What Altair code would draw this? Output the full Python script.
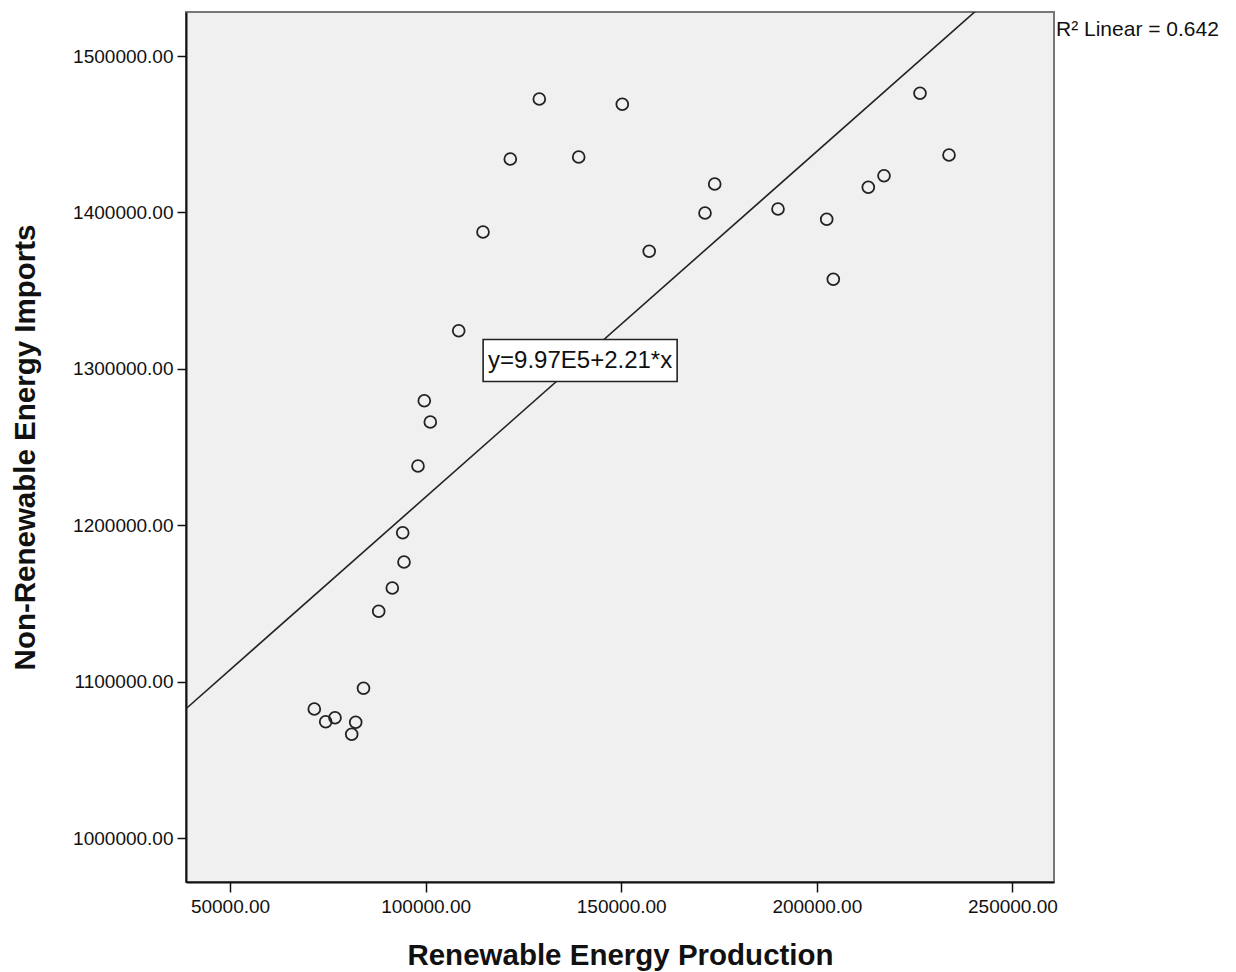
import altair as alt
import pandas as pd

# Data
renewable = [71547, 74461, 76838, 81107, 82129, 84123, 88009, 91485, 94476, 94144,
             98055, 99665, 101199, 108459, 114670, 121649, 129062, 139133, 150279, 157155,
             171419, 173899, 190079, 202528, 204215, 213162, 217175, 226378, 233791]
nonrenewable = [1082481, 1074361, 1076918, 1066304, 1073977, 1095716, 1144949, 1159847, 1176471, 1195205,
                1237852, 1279604, 1265985, 1324361, 1387468, 1434143, 1472506, 1435422, 1469118, 1375192,
                1399616, 1418159, 1402174, 1395588, 1357225, 1416049, 1423465, 1476151, 1436701]

intercept = 997000
slope = 2.21
r_squared = 0.642
equation_label = "y=9.97E5+2.21*x"
equation_x = 139500

x_domain = [38750, 260630]
y_domain = [971867, 1528133]
x_ticks = [50000, 100000, 150000, 200000, 250000]
y_ticks = [1000000, 1100000, 1200000, 1300000, 1400000, 1500000]

FONT = "Liberation Sans"

df = pd.DataFrame({"x": renewable, "y": nonrenewable})
line_df = pd.DataFrame({"x": x_domain, "y": [intercept + slope * v for v in x_domain]})
label_df = pd.DataFrame({"x": [equation_x], "y": [intercept + slope * equation_x], "t": [equation_label]})

xscale = alt.Scale(domain=x_domain, nice=False, zero=False)
yscale = alt.Scale(domain=y_domain, nice=False, zero=False)

xaxis = alt.Axis(values=x_ticks, format=".2f", title="Renewable Energy Production", grid=False,
                 labelFont=FONT, labelFontSize=19, labelColor="#111", labelPadding=5,
                 titleFont=FONT, titleFontSize=29.5, titleFontWeight="bold", titleColor="#111",
                 titleY=59, domainColor="#111", domainWidth=2, tickColor="#111", tickWidth=1.5,
                 tickSize=10, labelFlush=False, labelOverlap=False)
yaxis = alt.Axis(values=y_ticks, format=".2f", title="Non-Renewable Energy Imports", grid=False,
                 labelFont=FONT, labelFontSize=19, labelColor="#111", labelPadding=4,
                 titleFont=FONT, titleFontSize=29.5, titleFontWeight="bold", titleColor="#111",
                 titleX=-146, domainColor="#111", domainWidth=2, tickColor="#111", tickWidth=1.5,
                 tickSize=9, labelFlush=False, labelOverlap=False)

points = alt.Chart(df).mark_point(shape="circle", filled=False, size=140, stroke="#222",
                                  strokeWidth=1.8, opacity=1).encode(
    x=alt.X("x:Q", scale=xscale, axis=xaxis),
    y=alt.Y("y:Q", scale=yscale, axis=yaxis),
)

fit = alt.Chart(line_df).mark_line(color="#222", strokeWidth=1.6, clip=True).encode(
    x=alt.X("x:Q", scale=xscale),
    y=alt.Y("y:Q", scale=yscale),
)

box = alt.Chart(label_df).mark_rect(width=194, height=42, fill="white", stroke="#222",
                                    strokeWidth=1.6).encode(
    x=alt.X("x:Q", scale=xscale),
    y=alt.Y("y:Q", scale=yscale),
)

eq_text = alt.Chart(label_df).mark_text(font=FONT, fontSize=24, color="#111", align="center",
                                        baseline="middle").encode(
    x=alt.X("x:Q", scale=xscale),
    y=alt.Y("y:Q", scale=yscale),
    text="t:N",
)

r2_text = alt.Chart(pd.DataFrame({"t": [f"R\u00b2 Linear = {r_squared}"]})).mark_text(
    font=FONT, fontSize=21, color="#111", align="left", baseline="middle"
).encode(x=alt.value(870), y=alt.value(18), text="t:N")

chart = alt.layer(fit, points, box, eq_text, r2_text).properties(
    width=868, height=870,
    autosize="none",
    padding={"left": 186, "top": 12, "right": 182, "bottom": 90},
    background="white",
).configure_view(fill="#F0F0F0", stroke="#777", strokeWidth=2)

chart.save("out.html", embed_options={"renderer": "svg", "actions": False})
